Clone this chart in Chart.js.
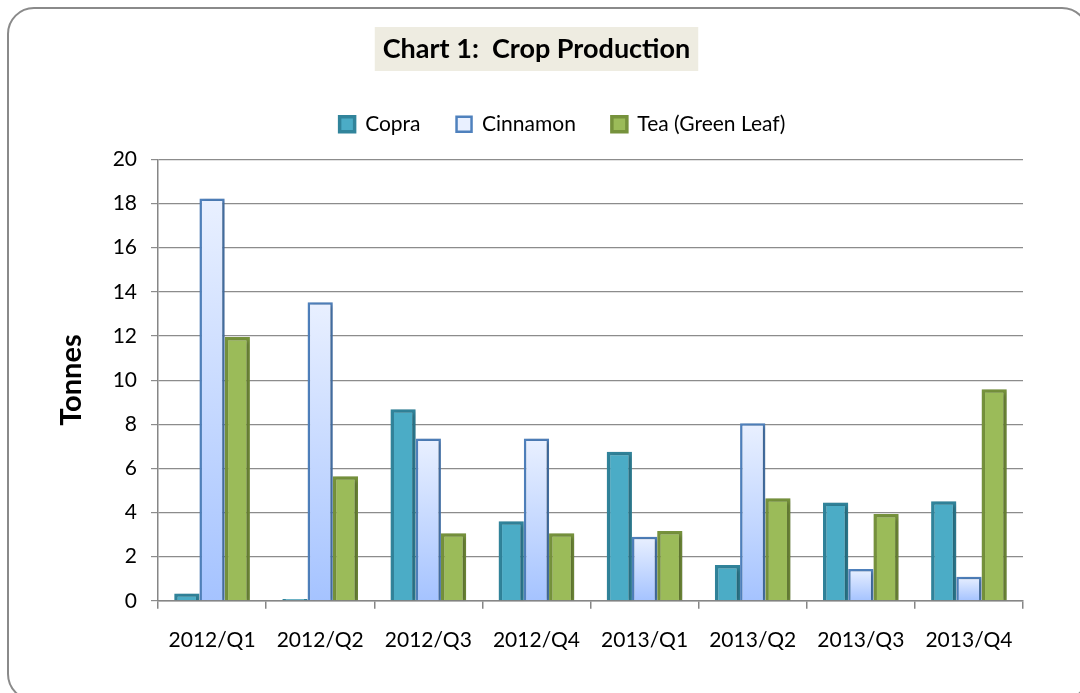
<!DOCTYPE html>
<html><head><meta charset="utf-8">
<script src="https://cdn.jsdelivr.net/npm/chart.js@4/dist/chart.umd.min.js"></script>
<style>html,body{margin:0;padding:0;background:#fff;overflow:hidden}</style>
</head><body>
<canvas id="c" width="1080" height="693"></canvas>
<script>
const categories = ['2012/Q1','2012/Q2','2012/Q3','2012/Q4','2013/Q1','2013/Q2','2013/Q3','2013/Q4'];
const copra = [0.33, 0.08, 8.68, 3.60, 6.75, 1.62, 4.45, 4.51];
const cinnamon = [18.23, 13.53, 7.35, 7.35, 2.90, 8.05, 1.44, 1.09];
const tea = [11.95, 5.64, 3.06, 3.06, 3.16, 4.65, 3.93, 9.59];
const seriesNames = ['Copra', 'Cinnamon', 'Tea (Green Leaf)'];
const chartTitle = 'Chart 1:  Crop Production';
const yTitle = 'Tonnes';
const yMin = 0, yMax = 20, yStep = 2;

const FONT = 'Lato, "Open Sans", sans-serif';

function cinnamonFill(ctx) {
  const chart = ctx.chart;
  if (ctx.type !== 'data' || !chart.chartArea) {
    const g = chart.ctx.createLinearGradient(0, 115, 0, 132);
    g.addColorStop(0, '#E9F0FF'); g.addColorStop(1, '#A9C5FF');
    return g;
  }
  const y = chart.scales.y;
  const top = y.getPixelForValue(ctx.raw);
  const bot = y.getPixelForValue(0);
  const g = chart.ctx.createLinearGradient(0, top, 0, Math.max(bot, top + 1));
  g.addColorStop(0, '#E9F0FF');
  g.addColorStop(1, '#A5C3FF');
  return g;
}

const framePlugin = {
  id: 'frame',
  beforeLayout(chart) {
    const lg = chart.legend;
    if (lg && !lg._fixed) {
      const f = lg.fit;
      lg.fit = function () { f.call(this); this.height = 81.7; };
      lg._fixed = true;
    }
  },
  afterLayout(chart) {
    const lg = chart.legend;
    if (lg) { lg.left += 26; lg.right += 26; }
  },
  beforeDraw(chart) {
    const c = chart.ctx;
    c.save();
    c.fillStyle = '#fff';
    c.fillRect(0, 0, chart.width, chart.height);
    c.strokeStyle = '#8a8a8a';
    c.lineWidth = 2;
    c.beginPath();
    c.roundRect(8, 8, 1080, 692, 26);
    c.stroke();
    c.font = 'bold 27px ' + FONT;
    const w = c.measureText(chartTitle).width;
    const tb = chart.titleBlock;
    const cx = (tb.left + tb.right) / 2;
    c.fillStyle = '#EEECE1';
    c.fillRect(cx - w / 2 - 8, 27, w + 16, 44);
    c.restore();
  },
  beforeDatasetsDraw(chart) {
    const c = chart.ctx;
    c.save();
    c.shadowColor = 'rgba(0,0,0,0.28)';
    c.shadowBlur = 4;
    c.shadowOffsetX = 2;
    c.shadowOffsetY = 1;
  },
  afterDatasetsDraw(chart) {
    chart.ctx.restore();
  }
};

new Chart(document.getElementById('c'), {
  type: 'bar',
  data: {
    labels: categories,
    datasets: [
      { label: seriesNames[0], data: copra, backgroundColor: '#4BACC6', borderColor: '#31849B', borderWidth: 3.5 },
      { label: seriesNames[1], data: cinnamon, backgroundColor: cinnamonFill, borderColor: '#4F81BD', borderWidth: 2.5 },
      { label: seriesNames[2], data: tea, backgroundColor: '#9BBB59', borderColor: '#76923C', borderWidth: 3.5 }
    ]
  },
  options: {
    responsive: false,
    animation: false,
    devicePixelRatio: 1,
    layout: { padding: { left: 50, right: 57, top: 20, bottom: 21 } },
    datasets: { bar: { categoryPercentage: 0.7, barPercentage: 1.0, borderSkipped: 'bottom' } },
    plugins: {
      title: {
        display: true, text: chartTitle, color: '#000',
        font: { family: FONT, size: 27, weight: 'bold', lineHeight: 1.2 },
        padding: { top: 12.8, bottom: 12.5 }
      },
      legend: {
        display: true, position: 'top',
        labels: {
          color: '#000', font: { family: FONT, size: 21 },
          boxWidth: 15, boxHeight: 15, padding: 36
        }
      },
      tooltip: { enabled: false }
    },
    scales: {
      x: {
        grid: { display: true, drawOnChartArea: false, drawTicks: true, tickLength: 8, color: '#868686', lineWidth: 1.5, offset: true },
        border: { display: true, color: '#868686', width: 1.5 },
        ticks: { color: '#000', font: { family: FONT, size: 21 }, padding: 19, maxRotation: 0 }
      },
      y: {
        min: yMin, max: yMax,
        afterFit(scale) { scale.width = 108; },
        grid: { color: '#8c8c8c', lineWidth: 1.2, tickLength: 7 },
        border: { display: true, color: '#868686', width: 1.5 },
        ticks: { stepSize: yStep, color: '#000', font: { family: FONT, size: 21 }, padding: 14 },
        title: { display: true, text: yTitle, color: '#000', font: { family: FONT, size: 29, weight: 'bold', lineHeight: 1.2 }, padding: { top: 4, bottom: 0 } }
      }
    }
  },
  plugins: [framePlugin]
});
</script>
</body></html>
